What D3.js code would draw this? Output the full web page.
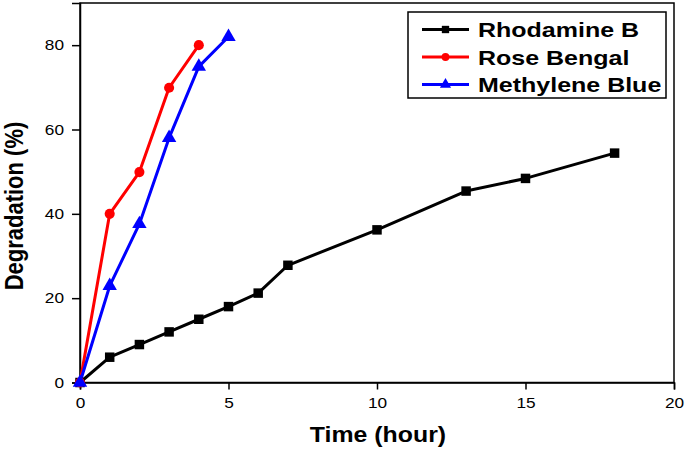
<!DOCTYPE html>
<html><head><meta charset="utf-8">
<script src="https://cdn.jsdelivr.net/npm/d3@7"></script>
<style>body{margin:0;background:#fff}svg{display:block}text{font-family:"Liberation Sans",Arial,sans-serif}</style>
</head><body>
<svg id="c" width="685" height="450"></svg>
<script>
const seriesNames = ["Rhodamine B", "Rose Bengal", "Methylene Blue"];
const rhodamineX = [0, 1, 2, 3, 4, 5, 6, 7, 10, 13, 15, 18];
const rhodamineY = [0, 6, 9, 12, 15, 18, 21.2, 27.8, 36.2, 45.4, 48.4, 54.4];
const roseX = [0, 1, 2, 3, 4];
const roseY = [0, 40, 49.9, 69.9, 80];
const mbX = [0, 1, 2, 3, 4, 5];
const mbY = [0, 22.9, 37.6, 58, 74.9, 82];
const xTicks = [0, 5, 10, 15, 20];
const yTicks = [0, 20, 40, 60, 80];
const colors = ["#000000", "#ff0000", "#0000ff"];
const symbols = [d3.symbolSquare, d3.symbolCircle, d3.symbolTriangle];
const symSizes = [90, 80, 90];

const series = [
  {name: seriesNames[0], pts: rhodamineX.map((x,i)=>[x, rhodamineY[i]])},
  {name: seriesNames[1], pts: roseX.map((x,i)=>[x, roseY[i]])},
  {name: seriesNames[2], pts: mbX.map((x,i)=>[x, mbY[i]])}
];

const L = 80, R = 674, T = 3, B = 382.5;
const SX = 1.15;
const svg = d3.select("#c");
const x = d3.scaleLinear().domain([0, 20]).range([L, R]);
const y = d3.scaleLinear().domain([0, 90]).range([B, T]);

svg.append("rect").attr("x", L).attr("y", T).attr("width", R-L).attr("height", B-T)
  .attr("fill", "none").attr("stroke", "#000").attr("stroke-width", 1.5);

const xAxis = svg.append("g").attr("transform", `translate(0,${B})`)
  .call(d3.axisBottom(x).tickValues(xTicks).tickSize(7).tickPadding(8).tickFormat(d3.format("d")));
const yAxis = svg.append("g").attr("transform", `translate(${L},0)`)
  .call(d3.axisLeft(y).tickValues(yTicks).tickSize(8).tickPadding(8).tickFormat(d3.format("d")));
[xAxis, yAxis].forEach(g => {
  g.select(".domain").attr("stroke-width", 1.5);
  g.selectAll(".tick line").attr("stroke-width", 1.5);
  g.selectAll("text").attr("font-size", 15).attr("fill", "#000")
    .attr("font-family", "'Liberation Sans', Arial, sans-serif");
});
xAxis.selectAll(".tick text").attr("transform", `scale(${SX},1)`);
yAxis.selectAll(".tick text").attr("x", 0).attr("transform", `translate(-16,0) scale(${SX},1)`);

const line = d3.line().x(d => x(d[0])).y(d => y(d[1]));
series.forEach((s, i) => {
  svg.append("path").datum(s.pts).attr("d", line).attr("fill", "none")
    .attr("stroke", colors[i]).attr("stroke-width", 3).attr("stroke-linejoin", "round");
});
series.forEach((s, i) => {
  svg.append("g").selectAll("path").data(s.pts).join("path")
    .attr("transform", d => `translate(${x(d[0])},${y(d[1])})`)
    .attr("d", d3.symbol().type(symbols[i]).size(symSizes[i]))
    .attr("fill", colors[i]);
});

svg.append("text").attr("transform", `translate(378,442) scale(1.13,1)`).attr("text-anchor", "middle")
  .attr("font-size", 22).attr("font-weight", "bold").text("Time (hour)");
svg.append("text").attr("transform", "translate(23,206) rotate(-90) scale(1,1.15)").attr("text-anchor", "middle")
  .attr("font-size", 22).attr("font-weight", "bold").text("Degradation (%)");

const lg = svg.append("g");
lg.append("rect").attr("x", 408).attr("y", 12).attr("width", 258).attr("height", 86)
  .attr("fill", "#fff").attr("stroke", "#000").attr("stroke-width", 1.5);
series.forEach((s, i) => {
  const cy = 29.5 + i * 27.5;
  lg.append("line").attr("x1", 422).attr("x2", 469).attr("y1", cy).attr("y2", cy)
    .attr("stroke", colors[i]).attr("stroke-width", 3);
  lg.append("path").attr("transform", `translate(445.5,${cy})`)
    .attr("d", d3.symbol().type(symbols[i]).size(symSizes[i]*0.6)).attr("fill", colors[i]);
  lg.append("text").attr("transform", `translate(478,${cy + 7.5}) scale(1.19,1)`).attr("font-size", 21)
    .attr("font-weight", "bold").text(s.name);
});
</script>
</body></html>
